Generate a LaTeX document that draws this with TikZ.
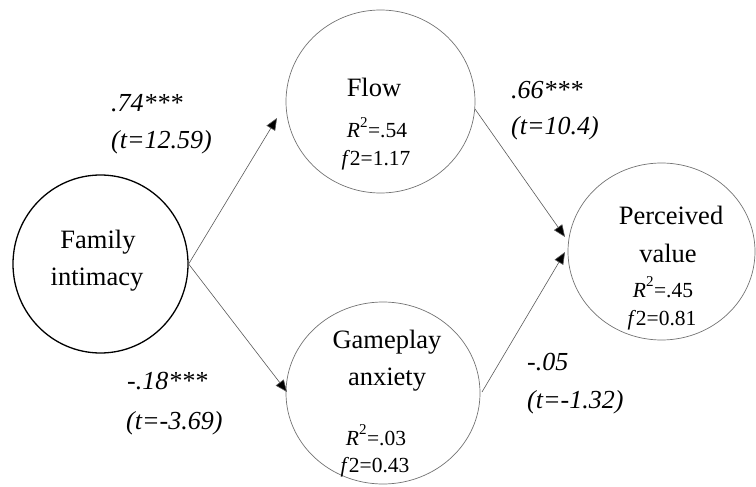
\documentclass[tikz,border=0pt]{standalone}
\usepackage{fontspec}
\setmainfont{Liberation Serif}
\usetikzlibrary{shapes.geometric,arrows.meta}
\tikzset{
  construct/.style={draw=black!55, line width=0.7pt, ellipse, inner sep=0pt},
  mainlbl/.style={font=\fontsize{26.5}{28}\selectfont, align=center, inner sep=0pt},
  statlbl/.style={font=\fontsize{21.5}{22}\selectfont, inner sep=0pt},
  coef/.style={font=\fontsize{26}{28}\selectfont\itshape, anchor=west, inner sep=0pt},
  path/.style={draw=black!65, line width=0.6pt, -{Triangle[length=12pt,width=10pt,fill=black]}},
}
\newcommand{\rsq}[1]{\textit{R}\raisebox{0.15em}{\textsuperscript{2}}=#1}
\begin{document}
\begin{tikzpicture}[x=1pt,y=-1pt]
\useasboundingbox (0,0) rectangle (756,487);
% constructs
\node[construct, draw=black, line width=1.3pt, minimum width=175pt, minimum height=178pt] (fi) at (100.5,264) {};
\node[construct, minimum width=189pt, minimum height=183pt] (flow) at (380.5,101.5) {};
\node[construct, minimum width=194pt, minimum height=182pt] (ga) at (383,393) {};
\node[construct, minimum width=187pt, minimum height=177pt] (pv) at (661.5,251.5) {};
% texts inside
\node[mainlbl] (fiA) at (98,242) {Family};
\node[mainlbl] (fiB) at (97,280) {intimacy};
\node[mainlbl] (flowA) at (374,87) {Flow};
\node[statlbl, anchor=base] (flowB) at (377,138) {\rsq{.54}};
\node[statlbl, anchor=base] (flowC) at (376,165) {\textit{f}2=1.17};
\node[mainlbl] (gaA) at (387,342) {Gameplay};
\node[mainlbl] (gaB) at (387,380) {anxiety};
\node[statlbl, anchor=base] (gaC) at (376,445) {\rsq{.03}};
\node[statlbl, anchor=base] (gaD) at (375,472) {\textit{f}2=0.43};
\node[mainlbl] (pvA) at (671,215) {Perceived};
\node[mainlbl] (pvB) at (668,253) {value};
\node[statlbl, anchor=base] (pvC) at (663,297) {\rsq{.45}};
\node[statlbl, anchor=base] (pvD) at (662,325) {\textit{f}2=0.81};
% arrow tips
\coordinate (t1) at (277,118);
\coordinate (t2) at (287,392);
\coordinate (t3) at (565,237);
\coordinate (t4) at (565,252);
\coordinate (s3) at (475,109);
\coordinate (s4) at (482,392);
% paths
\draw[path] (fi.east) -- (t1);
\draw[path] (fi.east) -- (t2);
\draw[path] (s3) -- (t3);
\draw[path] (s4) -- (t4);
% coefficients
\node[coef] (c1a) at (111,103) {.74***};
\node[coef] (c1b) at (111,142) {(t=12.59)};
\node[coef] (c2a) at (127,381) {-.18***};
\node[coef] (c2b) at (126,423) {(t=-3.69)};
\node[coef] (c3a) at (511,90) {.66***};
\node[coef] (c3b) at (511,128) {(t=10.4)};
\node[coef] (c4a) at (527,362) {-.05};
\node[coef] (c4b) at (527,402) {(t=-1.32)};
\end{tikzpicture}
\end{document}
